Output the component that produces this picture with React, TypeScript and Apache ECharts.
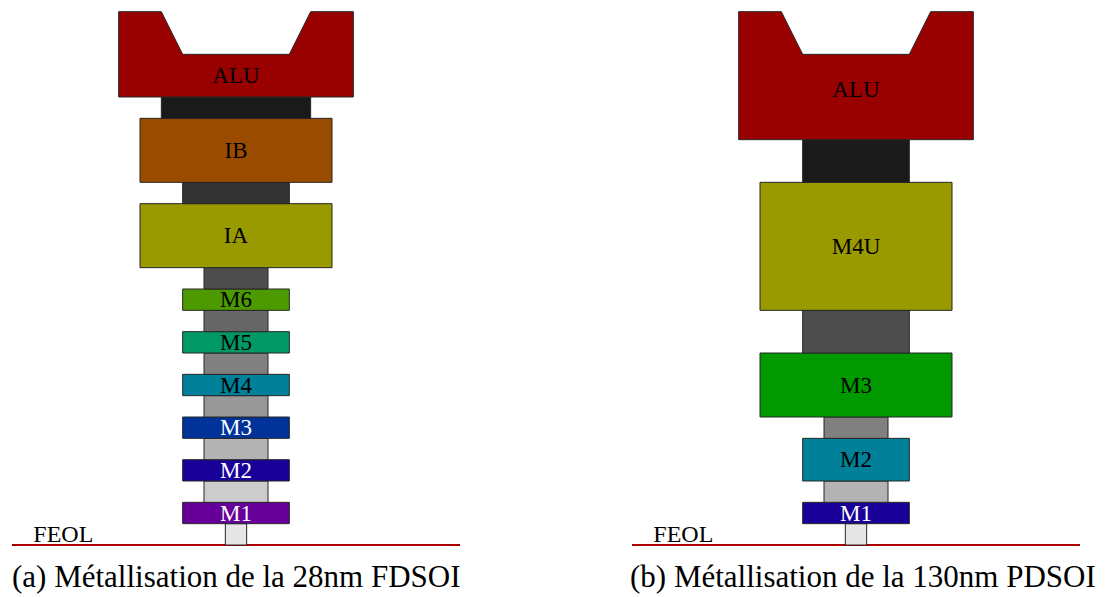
import React, { useEffect, useRef } from "react";
import * as echarts from "echarts";

// ---------- Data (units: one grid step of the drawing) ----------
// Panel (a): 28nm FDSOI
const labelsA = ["", "M1", "", "M2", "", "M3", "", "M4", "", "M5", "", "M6", "", "IA", "", "IB", "", "ALU"];
const bottomA = [0, 1, 2, 3, 4, 5, 6, 7, 8, 9, 10, 11, 12, 13, 16, 17, 20, 21];
const topA = [1, 2, 3, 4, 5, 6, 7, 8, 9, 10, 11, 12, 13, 16, 17, 20, 21, 25];
const widthA = [1, 5, 3, 5, 3, 5, 3, 5, 3, 5, 3, 5, 3, 9, 5, 9, 7, 11];
const labelLevelA = [0.5, 1.5, 2.5, 3.5, 4.5, 5.5, 6.5, 7.5, 8.5, 9.5, 10.5, 11.5, 12.5, 14.5, 16.5, 18.5, 20.5, 22];
const colorsA = [
  "#e6e6e6", "#660099", "#cccccc", "#190099", "#b3b3b3", "#003399", "#999999", "#008099",
  "#808080", "#009966", "#666666", "#4c9900", "#4d4d4d", "#999900", "#333333", "#994c00",
  "#1a1a1a", "#990000",
];
const labelColorsA = [
  "#000", "#fff", "#000", "#fff", "#000", "#fff", "#000", "#000", "#000", "#000", "#000", "#000",
  "#000", "#000", "#000", "#000", "#000", "#000",
];

// Panel (b): 130nm PDSOI
const labelsB = ["", "M1", "", "M2", "", "M3", "", "M4U", "", "ALU"];
const bottomB = [0, 1, 2, 3, 5, 6, 9, 11, 17, 19];
const topB = [1, 2, 3, 5, 6, 9, 11, 17, 19, 25];
const widthB = [1, 5, 3, 5, 3, 9, 5, 9, 5, 11];
const labelLevelB = [0.5, 1.5, 2.5, 4, 5.5, 7.5, 10, 14, 18, 21.35];
const colorsB = ["#e6e6e6", "#190099", "#b3b3b3", "#008099", "#808080", "#009900", "#4d4d4d", "#999900", "#1a1a1a", "#990000"];
const labelColorsB = ["#000", "#fff", "#000", "#000", "#000", "#000", "#000", "#000", "#000", "#000"];

const feolLine = [[-10.5, 0], [10.5, 0]];
const feolLabel = "FEOL";
const feolLabelPos = [-9.5, 0.53];

const captionA = "(a) Métallisation de la 28nm FDSOI";
const captionB = "(b) Métallisation de la 130nm PDSOI";

const NOTCH_DEPTH = 2;
const SERIF = "'Liberation Serif', 'Times New Roman', 'DejaVu Serif', serif";

function stackSeries(
  idx: number,
  labels: string[],
  bottoms: number[],
  tops: number[],
  widths: number[],
  levels: number[],
  colors: string[],
  labelColors: string[]
) {
  const data = labels.map((_, i) => [0, bottoms[i], tops[i], widths[i], levels[i]]);
  return {
    type: "custom",
    xAxisIndex: idx,
    yAxisIndex: idx,
    z: 3,
    silent: true,
    encode: { x: 0, y: [1, 2] },
    data,
    renderItem: (params: any, api: any) => {
      const i = params.dataIndex;
      const b = api.value(1);
      const t = api.value(2);
      const w = api.value(3);
      const lv = api.value(4);
      const h = w / 2;
      const stroke = "#262626";
      const children: any[] = [];
      if (labels[i] === "ALU") {
        const pts = [
          [-h, t], [-(h - 2), t], [-(h - 3), t - NOTCH_DEPTH], [h - 3, t - NOTCH_DEPTH],
          [h - 2, t], [h, t], [h, b], [-h, b],
        ].map((p) => api.coord(p));
        children.push({
          type: "polygon",
          shape: { points: pts },
          style: { fill: colors[i], stroke, lineWidth: 1 },
        });
      } else {
        const p0 = api.coord([-h, t]);
        const p1 = api.coord([h, b]);
        children.push({
          type: "rect",
          shape: { x: p0[0], y: p0[1], width: p1[0] - p0[0], height: p1[1] - p0[1] },
          style: { fill: colors[i], stroke, lineWidth: 1 },
        });
      }
      if (labels[i]) {
        const c = api.coord([0, lv]);
        children.push({
          type: "text",
          x: c[0],
          y: c[1],
          style: {
            text: labels[i],
            fill: labelColors[i],
            fontFamily: SERIF,
            fontSize: 23,
            align: "center",
            verticalAlign: "middle",
          },
        });
      }
      return { type: "group", children };
    },
  };
}

function feolSeries(idx: number) {
  return [
    {
      type: "line",
      xAxisIndex: idx,
      yAxisIndex: idx,
      z: 2,
      silent: true,
      symbol: "none",
      data: feolLine,
      lineStyle: { color: "#aa0000", width: 2 },
    },
    {
      type: "custom",
      xAxisIndex: idx,
      yAxisIndex: idx,
      z: 4,
      silent: true,
      data: [feolLabelPos],
      renderItem: (_p: any, api: any) => {
        const c = api.coord([api.value(0), api.value(1)]);
        return {
          type: "text",
          x: c[0],
          y: c[1],
          style: {
            text: feolLabel,
            fill: "#000",
            fontFamily: SERIF,
            fontSize: 24,
            align: "left",
            verticalAlign: "middle",
          },
        };
      },
    },
  ];
}

export default function App() {
  const ref = useRef<HTMLDivElement>(null);
  useEffect(() => {
    document.body.style.margin = "0";
    if (!ref.current) return;
    const chart = echarts.init(ref.current, null, { renderer: "svg" });
    const u = 448 / 21;
    const gridTop = 545 - 25 * u;
    const gridH = 25 * u;
    const axisCommon = { show: false, type: "value" as const };
    const capStyle = { fontFamily: SERIF, fontSize: 31, fontWeight: "normal", color: "#000" };
    chart.setOption({
      animation: false,
      backgroundColor: "#fff",
      title: [
        { text: captionA, left: 12, top: 561, padding: 0, textStyle: capStyle },
        { text: captionB, left: 630, top: 561, padding: 0, textStyle: capStyle },
      ],
      grid: [
        { left: 12, top: gridTop, width: 448, height: gridH },
        { left: 632, top: gridTop, width: 448, height: gridH },
      ],
      xAxis: [
        { ...axisCommon, gridIndex: 0, min: -10.5, max: 10.5 },
        { ...axisCommon, gridIndex: 1, min: -10.5, max: 10.5 },
      ],
      yAxis: [
        { ...axisCommon, gridIndex: 0, min: 0, max: 25 },
        { ...axisCommon, gridIndex: 1, min: 0, max: 25 },
      ],
      series: [
        ...feolSeries(0),
        ...feolSeries(1),
        stackSeries(0, labelsA, bottomA, topA, widthA, labelLevelA, colorsA, labelColorsA),
        stackSeries(1, labelsB, bottomB, topB, widthB, labelLevelB, colorsB, labelColorsB),
      ],
    });
    return () => chart.dispose();
  }, []);
  return <div ref={ref} style={{ width: 1112, height: 597 }} />;
}
